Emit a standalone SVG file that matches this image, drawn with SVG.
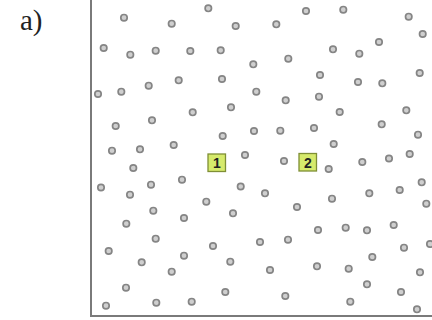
<svg xmlns="http://www.w3.org/2000/svg" xmlns:xlink="http://www.w3.org/1999/xlink" width="432" height="320" viewBox="0 0 432 320">
<style>
.dot{fill:#cfcfcf;stroke:#858585;stroke-width:1.7}
.frame{fill:none;stroke:#7a7a7a;stroke-width:2}
.sq{fill:#d6ea6c;stroke:#7f8f35;stroke-width:1.3}
.sqt{font-family:"Liberation Sans",Arial,sans-serif;font-weight:bold;font-size:14px;fill:#222;text-anchor:middle}
.lbl{font-family:"Liberation Serif","DejaVu Serif",serif;font-size:29px;fill:#222}
</style>
<defs><circle id="d" r="3.2" class="dot"/></defs>
<rect width="432" height="320" fill="#fff"/>
<text class="lbl" x="20" y="30">a)</text>
<polyline class="frame" points="91,-2 91,316 434,316"/>
<g id="dots">
<use xlink:href="#d" x="124" y="17.7"/><use xlink:href="#d" x="171.7" y="23.7"/><use xlink:href="#d" x="208.3" y="8.3"/>
<use xlink:href="#d" x="103.7" y="48"/><use xlink:href="#d" x="130.3" y="54.7"/><use xlink:href="#d" x="155.7" y="50.7"/>
<use xlink:href="#d" x="190.3" y="51"/><use xlink:href="#d" x="98" y="94"/><use xlink:href="#d" x="121.3" y="91.7"/>
<use xlink:href="#d" x="148.7" y="85.7"/><use xlink:href="#d" x="178.7" y="80.3"/><use xlink:href="#d" x="192.7" y="112.3"/>
<use xlink:href="#d" x="152" y="120.3"/><use xlink:href="#d" x="115.7" y="126"/><use xlink:href="#d" x="112" y="150.7"/>
<use xlink:href="#d" x="140" y="149.3"/><use xlink:href="#d" x="173.7" y="145"/><use xlink:href="#d" x="306" y="11"/>
<use xlink:href="#d" x="343.3" y="9.7"/><use xlink:href="#d" x="408.7" y="16.7"/><use xlink:href="#d" x="235.7" y="26"/>
<use xlink:href="#d" x="276.3" y="24.3"/><use xlink:href="#d" x="422.7" y="34"/><use xlink:href="#d" x="379" y="42"/>
<use xlink:href="#d" x="220.7" y="50.3"/><use xlink:href="#d" x="333" y="49.3"/><use xlink:href="#d" x="359.3" y="53.7"/>
<use xlink:href="#d" x="253.3" y="64.3"/><use xlink:href="#d" x="288.3" y="58.7"/><use xlink:href="#d" x="222" y="79"/>
<use xlink:href="#d" x="320" y="75"/><use xlink:href="#d" x="358" y="82"/><use xlink:href="#d" x="382.3" y="83.3"/>
<use xlink:href="#d" x="419.7" y="73"/><use xlink:href="#d" x="256.3" y="91.7"/><use xlink:href="#d" x="285.7" y="100.3"/>
<use xlink:href="#d" x="319" y="96.7"/><use xlink:href="#d" x="231" y="107.3"/><use xlink:href="#d" x="339.7" y="112"/>
<use xlink:href="#d" x="406.3" y="110.3"/><use xlink:href="#d" x="222.7" y="136"/><use xlink:href="#d" x="254" y="131"/>
<use xlink:href="#d" x="280.3" y="130.7"/><use xlink:href="#d" x="314" y="128"/><use xlink:href="#d" x="381.7" y="124.3"/>
<use xlink:href="#d" x="418" y="134.7"/><use xlink:href="#d" x="333.7" y="144"/><use xlink:href="#d" x="245" y="155"/>
<use xlink:href="#d" x="284" y="161"/><use xlink:href="#d" x="362.3" y="162"/><use xlink:href="#d" x="389" y="158.5"/>
<use xlink:href="#d" x="409.7" y="154"/><use xlink:href="#d" x="133.3" y="168"/><use xlink:href="#d" x="101" y="187.5"/>
<use xlink:href="#d" x="130" y="194.7"/><use xlink:href="#d" x="151" y="184.7"/><use xlink:href="#d" x="182" y="179.7"/>
<use xlink:href="#d" x="206.3" y="201.7"/><use xlink:href="#d" x="153.3" y="210.7"/><use xlink:href="#d" x="184" y="218"/>
<use xlink:href="#d" x="126.3" y="223.7"/><use xlink:href="#d" x="155.7" y="238.7"/><use xlink:href="#d" x="108.7" y="251"/>
<use xlink:href="#d" x="141.7" y="262.3"/><use xlink:href="#d" x="184" y="255.7"/><use xlink:href="#d" x="171.7" y="271.7"/>
<use xlink:href="#d" x="213" y="246"/><use xlink:href="#d" x="126" y="287.7"/><use xlink:href="#d" x="106" y="305.7"/>
<use xlink:href="#d" x="156.3" y="302.7"/><use xlink:href="#d" x="191.7" y="301.7"/><use xlink:href="#d" x="328.7" y="169"/>
<use xlink:href="#d" x="240.7" y="186.5"/><use xlink:href="#d" x="265" y="193.3"/><use xlink:href="#d" x="332" y="198.7"/>
<use xlink:href="#d" x="369.3" y="193.3"/><use xlink:href="#d" x="399.7" y="190"/><use xlink:href="#d" x="421.7" y="182.3"/>
<use xlink:href="#d" x="426.3" y="203.7"/><use xlink:href="#d" x="233" y="213.3"/><use xlink:href="#d" x="297" y="207"/>
<use xlink:href="#d" x="318" y="230"/><use xlink:href="#d" x="345.7" y="227.7"/><use xlink:href="#d" x="367" y="230.3"/>
<use xlink:href="#d" x="393.7" y="225"/><use xlink:href="#d" x="260" y="242"/><use xlink:href="#d" x="288" y="239.7"/>
<use xlink:href="#d" x="404" y="247.7"/><use xlink:href="#d" x="430" y="244"/><use xlink:href="#d" x="372.3" y="257"/>
<use xlink:href="#d" x="230.3" y="261.7"/><use xlink:href="#d" x="270" y="270"/><use xlink:href="#d" x="317" y="266.3"/>
<use xlink:href="#d" x="348.7" y="268.7"/><use xlink:href="#d" x="420" y="272.3"/><use xlink:href="#d" x="225.3" y="292"/>
<use xlink:href="#d" x="285.3" y="296"/><use xlink:href="#d" x="350.3" y="301.7"/><use xlink:href="#d" x="367" y="284.3"/>
<use xlink:href="#d" x="401" y="292"/><use xlink:href="#d" x="417" y="309.3"/>
</g>
<g id="node1"><rect class="sq" x="208" y="154" width="17.5" height="17.5"/><text class="sqt" x="216.8" y="168">1</text></g>
<g id="node2"><rect class="sq" x="299" y="153.5" width="17.5" height="17.5"/><text class="sqt" x="307.8" y="167.5">2</text></g>
</svg>
